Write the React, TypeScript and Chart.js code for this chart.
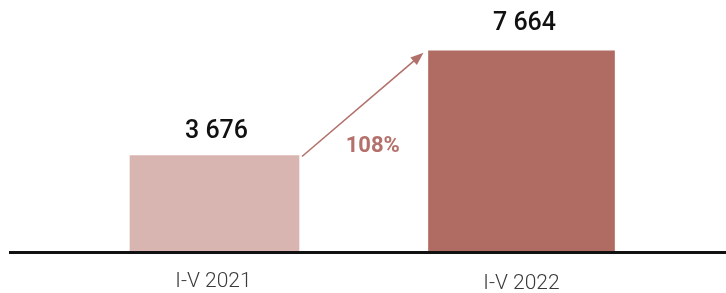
import React, { useEffect, useRef } from "react";
import { Chart, registerables } from "chart.js";

Chart.register(...registerables);

const categories = ["I-V 2021", "I-V 2022"];
const values2021 = [3676, null];
const values2022 = [null, 7664];
const valueLabels = ["3 676", "7 664"];
const growthLabel = "108%";

const annotations = {
  id: "annotations",
  afterDatasetsDraw(chart: any) {
    const ctx = chart.ctx;
    const xs = chart.scales.x;
    const ys = chart.scales.y;
    const b1 = chart.getDatasetMeta(0).data[0] as any;
    const b2 = chart.getDatasetMeta(1).data[1] as any;
    ctx.save();
    // baseline
    const y0 = ys.getPixelForValue(0);
    ctx.strokeStyle = "#111111";
    ctx.lineWidth = 3;
    ctx.beginPath();
    ctx.moveTo(9, y0 + 0.5);
    ctx.lineTo(chart.width, y0 + 0.5);
    ctx.stroke();

    // value labels
    ctx.fillStyle = "#111111";
    ctx.font = "500 25px Roboto";
    ctx.textAlign = "center";
    ctx.textBaseline = "middle";
    ctx.fillText(valueLabels[0], b1.x + 2, b1.y - 24);
    ctx.fillText(valueLabels[1], b2.x + 3, b2.y - 27);

    // category labels
    ctx.fillStyle = "#3a3a3a";
    ctx.font = "300 21px Roboto";
    ctx.fillText(categories[0], xs.getPixelForValue(0) - 1, 282);
    ctx.fillText(categories[1], xs.getPixelForValue(1), 284);

    // arrow
    const sx = b1.x + b1.width / 2 + 3;
    const sy = b1.y + 1;
    const ex = b2.x - b2.width / 2 - 5;
    const ey = b2.y + 2;
    const ang = Math.atan2(ey - sy, ex - sx);
    const color = "#b2706a";
    ctx.strokeStyle = color;
    ctx.fillStyle = color;
    ctx.lineWidth = 1.6;
    const hl = 13;
    ctx.beginPath();
    ctx.moveTo(sx, sy);
    ctx.lineTo(ex - Math.cos(ang) * (hl - 2), ey - Math.sin(ang) * (hl - 2));
    ctx.stroke();
    ctx.beginPath();
    ctx.moveTo(ex, ey);
    ctx.lineTo(ex - hl * Math.cos(ang) + 5 * Math.sin(ang), ey - hl * Math.sin(ang) - 5 * Math.cos(ang));
    ctx.lineTo(ex - hl * Math.cos(ang) - 5 * Math.sin(ang), ey - hl * Math.sin(ang) + 5 * Math.cos(ang));
    ctx.closePath();
    ctx.fill();

    // growth label
    ctx.fillStyle = "#b4706a";
    ctx.font = "700 22px Roboto";
    ctx.fillText(growthLabel, (sx + ex) / 2 + 10, b1.y - 9);
    ctx.restore();
  },
};

export default function App() {
  const ref = useRef<HTMLCanvasElement>(null);
  useEffect(() => {
    document.body.style.margin = "0";
    const chart = new Chart(ref.current as HTMLCanvasElement, {
      type: "bar",
      data: {
        labels: categories,
        datasets: [
          {
            data: values2021 as any,
            backgroundColor: "#d9b5b1",
            barThickness: 169,
            grouped: false,
          } as any,
          {
            data: values2022 as any,
            backgroundColor: "#b06b63",
            barThickness: 186,
            grouped: false,
          } as any,
        ],
      },
      options: {
        animation: false,
        responsive: false,
        maintainAspectRatio: false,
        layout: { padding: { left: 61, right: 51, top: 0, bottom: 41 } },
        plugins: { legend: { display: false }, tooltip: { enabled: false } },
        scales: {
          x: { display: false },
          y: { display: false, min: 0, max: 9600 },
        },
      },
      plugins: [annotations],
    });
    return () => chart.destroy();
  }, []);
  return <canvas ref={ref} width={726} height={293} style={{ display: "block" }} />;
}
